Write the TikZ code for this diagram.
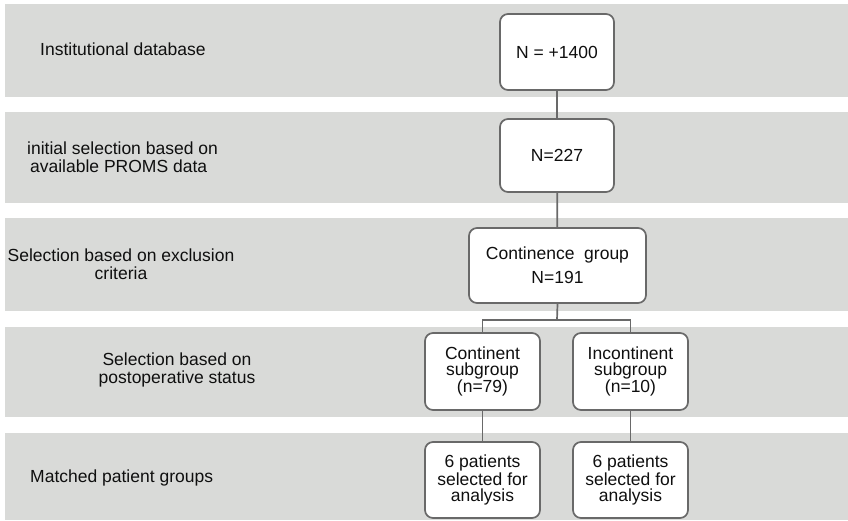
\documentclass[tikz,border=0pt]{standalone}
\usepackage{fontspec}
\setmainfont{Liberation Sans}
\definecolor{bandgray}{RGB}{217,218,216}
\definecolor{edgegray}{RGB}{105,105,105}
\definecolor{txt}{RGB}{15,15,15}
\begin{document}
\begin{tikzpicture}[x=1pt,y=-1pt,
  band/.style={fill=bandgray,draw=none},
  flowbox/.style={draw=edgegray,line width=1.7pt,fill=white,rounded corners=8pt,
     inner sep=0pt,align=center,text=txt,font=\fontsize{17.5}{16}\selectfont},
  lbl/.style={text=txt,inner sep=0pt,font=\fontsize{17.5}{17.5}\selectfont},
  conn/.style={draw=edgegray,line width=1.7pt}]
\useasboundingbox (0,0) rectangle (848,520);
\fill[white] (0,0) rectangle (848,520);
% bands
\path[band] (5,4) rectangle (848,97);
\path[band] (5,112) rectangle (848,203);
\path[band] (5,218) rectangle (848,311);
\path[band] (5,327) rectangle (848,417);
\path[band] (5,433) rectangle (848,520);
% labels
\node[lbl,anchor=west] (l1) at (40,49) {Institutional database};
\node[lbl,anchor=west,align=left] (l2) at (27,157) {initial selection based on\\\,available PROMS data};
\node[lbl,align=center] (l3) at (121,264) {Selection based on exclusion\\criteria};
\node[lbl,align=center] (l4) at (177,370) {Selection based on\\postoperative status};
\node[lbl,anchor=west] (l5) at (30,478) {Matched patient groups};
% boxes
\node[flowbox,minimum width=114pt,minimum height=76pt] (b1) at (557,52) {N = +1400};
\node[flowbox,minimum width=114pt,minimum height=73pt] (b2) at (557,155.5) {N=227};
\node[flowbox,minimum width=177pt,minimum height=75pt,font=\fontsize{17.5}{24}\selectfont] (b3) at (557.5,265.5) {Continence\ \ group\\N=191};
\node[flowbox,minimum width=115pt,minimum height=77pt] (b4l) at (482.5,371.5) {Continent\\subgroup\\(n=79)};
\node[flowbox,minimum width=115pt,minimum height=77pt] (b4r) at (630.5,371.5) {Incontinent\\subgroup\\(n=10)};
\node[flowbox,minimum width=115pt,minimum height=76pt] (b5l) at (482.5,480) {6 patients\\selected for\\analysis};
\node[flowbox,minimum width=115pt,minimum height=76pt] (b5r) at (630.5,480) {6 patients\\selected for\\analysis};
% connectors
\draw[conn] (b1) -- (b2);
\draw[conn] (b2) -- (b3);
\coordinate (br) at (557,320);
\draw[conn] (b3.south) -- (br);
\draw[conn] (b4l.north) |- (br) -| (b4r.north);
\draw[conn] (b4l) -- (b5l);
\draw[conn] (b4r) -- (b5r);
\end{tikzpicture}
\end{document}
